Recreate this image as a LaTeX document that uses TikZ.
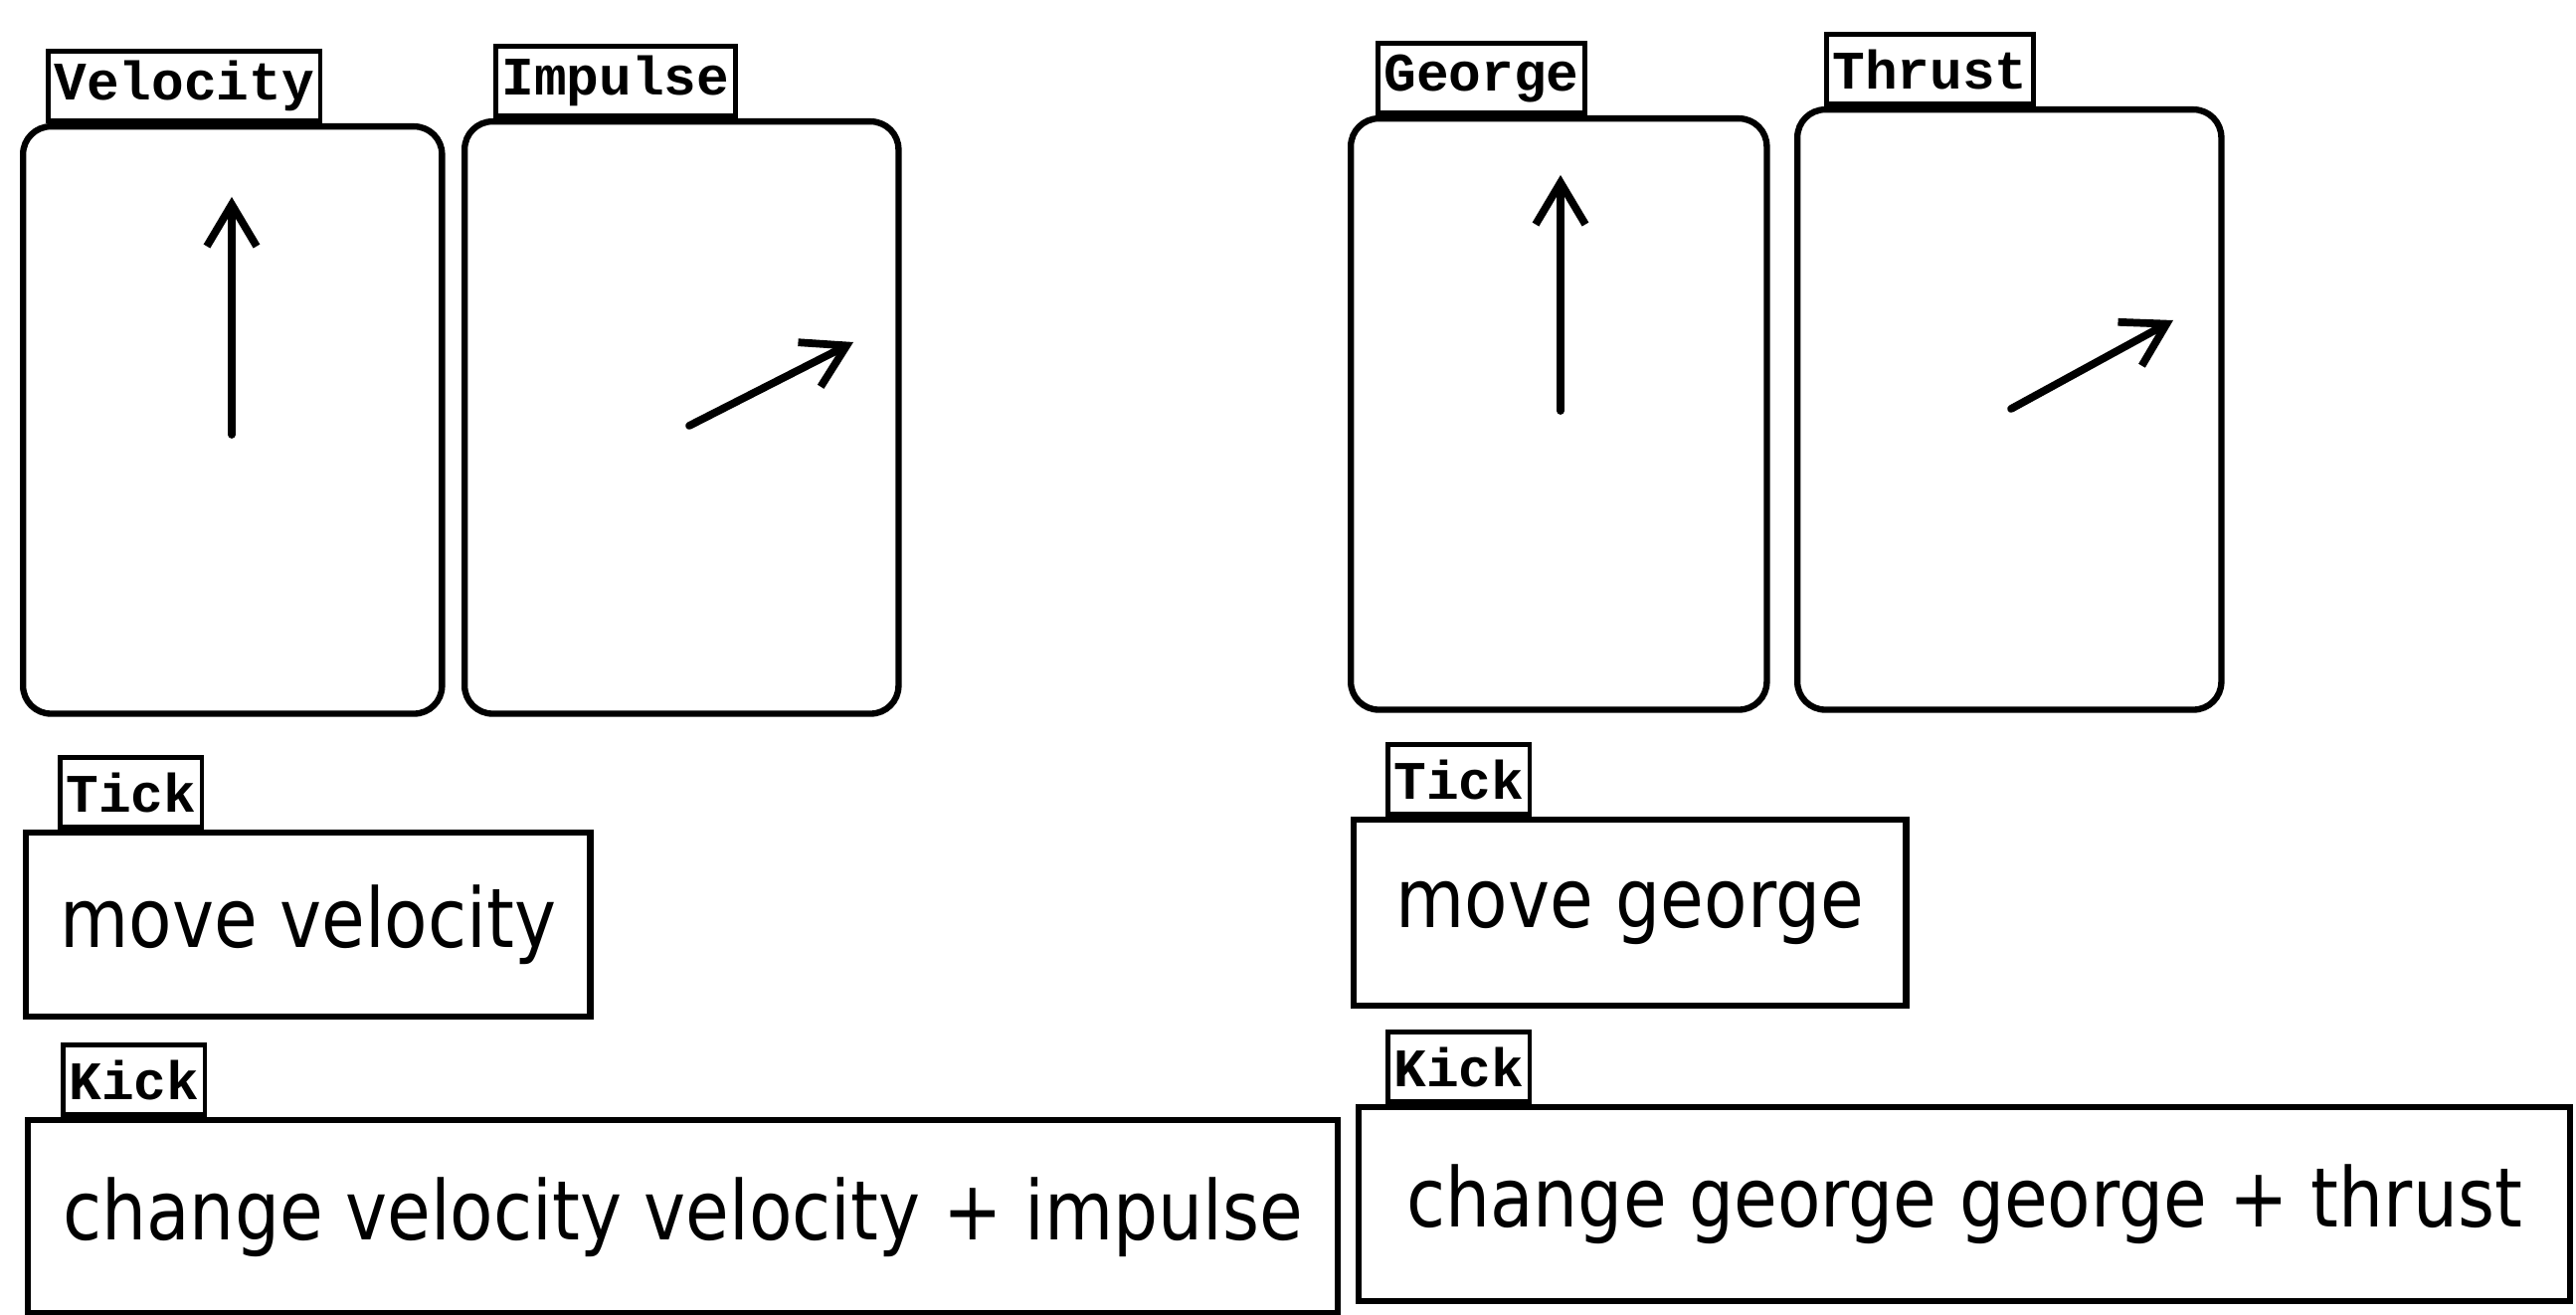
\documentclass[tikz,border=0pt]{standalone}
\usepackage{fontspec}
\setmainfont{DejaVu Sans}
\newfontfamily\bodyfont[FakeStretch=0.86]{DejaVu Sans}
\newfontfamily\tabfont{Liberation Mono}
\usetikzlibrary{arrows.meta,positioning}
\tikzset{panel/.style={draw,line width=1.8pt,rounded corners=0.28cm,anchor=north west,inner sep=0pt},
tab/.style={draw,line width=1.3pt,font=\tabfont\bfseries\fontsize{15.5}{16}\selectfont,
  inner xsep=0.06cm,inner ysep=0pt,minimum height=0.7cm},
cmd/.style={draw,line width=1.8pt,anchor=north west,inner sep=0pt,
  font=\bodyfont\fontsize{23.5}{26}\selectfont},
vec/.style={-{Straight Barb[length=0.42cm,width=0.5cm,line width=2.2pt]},line width=2.2pt,line cap=round}}

\begin{document}
\begin{tikzpicture}[x=0.01cm,y=-0.01cm]
\useasboundingbox (0,0) rectangle (2590,1322);
% vector panels
\node[panel,minimum width=4.21cm,minimum height=5.90cm] (vel) at (20,124) {};
\node[panel,minimum width=4.36cm,minimum height=5.95cm] (imp) at (464,119) {};
\node[panel,minimum width=4.18cm,minimum height=5.94cm] (geo) at (1355,116) {};
\node[panel,minimum width=4.26cm,minimum height=6.03cm] (thr) at (1804,107) {};
% command boxes
\node[cmd,minimum width=5.67cm,minimum height=1.85cm] (mvel) at (23,834) {move velocity};
\node[cmd,minimum width=13.16cm,minimum height=1.94cm] (cvel) at (25,1123) {change velocity velocity + impulse};
\node[cmd,minimum width=5.55cm,minimum height=1.87cm] (mgeo) at (1358,821) {move george};
\node[cmd,minimum width=12.17cm,minimum height=1.95cm] (cgeo) at (1363,1110) {change george george + thrust};
% tabs
\foreach \n/\t/\o in {vel/Velocity/.26,imp/Impulse/.32,geo/George/.28,thr/Thrust/.30,
 mvel/Tick/.35,cvel/Kick/.36,mgeo/Tick/.35,cgeo/Kick/.30}
 {\node[tab,above right=0pt and \o cm of \n.north west] (\n T) {\t};}
% vectors
\coordinate (velA) at (233,437); \coordinate (velB) at (233,198);
\coordinate (impA) at (693,428); \coordinate (impB) at (858,344);
\coordinate (geoA) at (1569,413); \coordinate (geoB) at (1569,176);
\coordinate (thrA) at (2022,411); \coordinate (thrB) at (2185,322);
\foreach \n in {vel,imp,geo,thr}
 {\draw[vec] (\n A) -- (\n B);}
\end{tikzpicture}
\end{document}
